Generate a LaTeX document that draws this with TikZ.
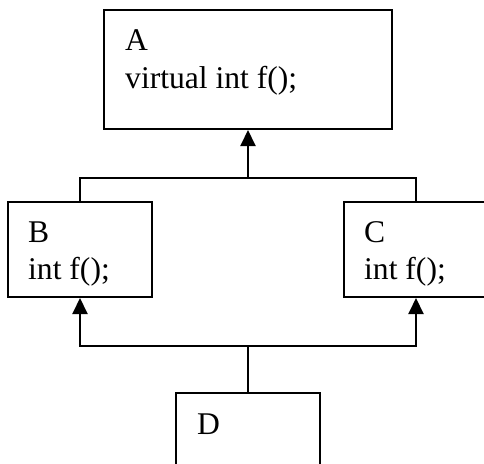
\documentclass[tikz,border=0pt]{standalone}
\usepackage{fontspec}
\setmainfont{Liberation Serif}
\usetikzlibrary{arrows.meta}
\begin{document}
\begin{tikzpicture}[x=1pt,y=-1pt,
  classbox/.style={draw,line width=2pt,rectangle,inner sep=0pt},
  label/.style={anchor=base west,inner sep=0pt,font=\fontsize{31.6}{38}\selectfont},
  link/.style={line width=2pt},
  inherit/.style={line width=2pt,-{Triangle[width=15pt,length=16pt]}}]
  \useasboundingbox (0,0) rectangle (484,463);
  \clip (0,0) rectangle (484,463);
  % class boxes
  \node[classbox,minimum width=288pt,minimum height=119pt] (A) at (248,69.5) {};
  \node[classbox,minimum width=144pt,minimum height=95pt] (B) at (80,249.5) {};
  \node[classbox,minimum width=144pt,minimum height=95pt] (C) at (416,249.5) {};
  \node[classbox,minimum width=144pt,minimum height=95pt] (D) at (248,440.5) {};
  % class names and members
  \node[label] (An) at (125,50) {A};
  \node[label] (Am) at (125,88) {virtual int f();};
  \node[label] (Bn) at (28,242) {B};
  \node[label] (Bm) at (28,279) {int f();};
  \node[label] (Cn) at (364,242) {C};
  \node[label] (Cm) at (364,279) {int f();};
  \node[label] (Dn) at (197,434) {D};
  % inheritance connectors
  \coordinate (jA) at (248,178);
  \coordinate (jD) at (248,346);
  \draw[link] (B.north) |- (jA) -| (C.north);
  \draw[inherit] (jA) -- (A.south);
  \draw[link] (D.north) -- (jD);
  \draw[inherit] (jD) -| (B.south);
  \draw[inherit] (jD) -| (C.south);
\end{tikzpicture}
\end{document}
